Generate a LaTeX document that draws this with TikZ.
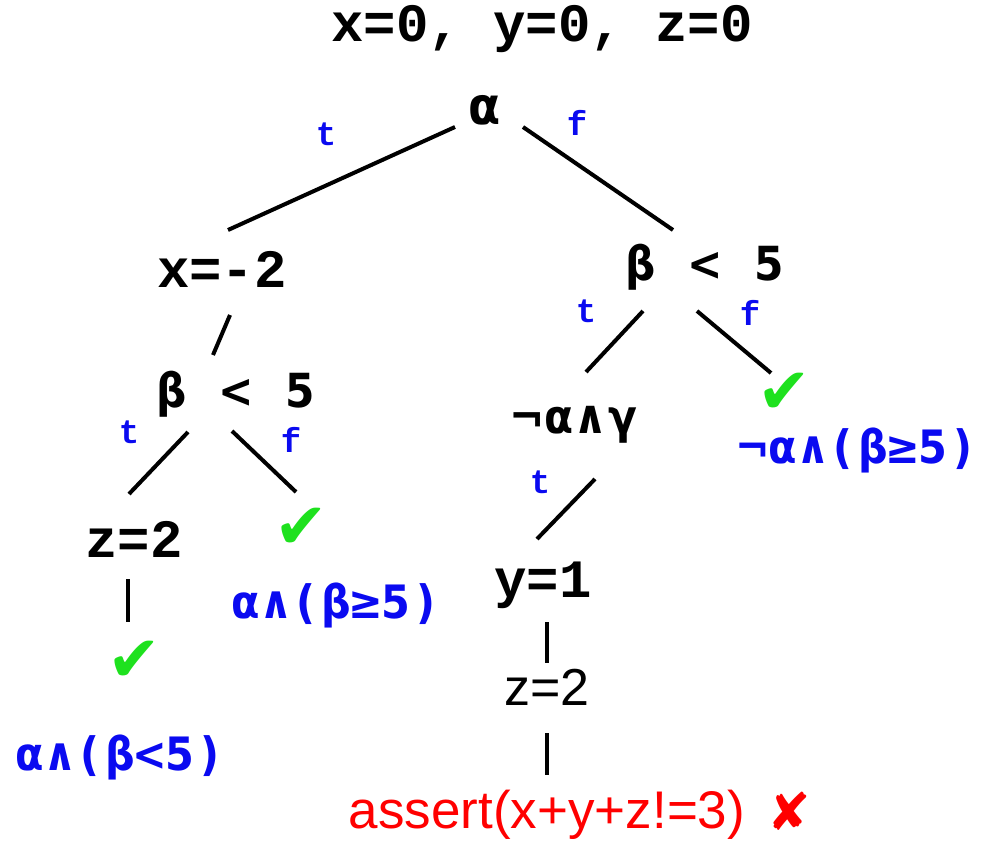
\documentclass[tikz,border=0pt]{standalone}
\usepackage{fontspec}
\setmainfont{DejaVu Sans}
\newfontfamily\cour{Liberation Mono}
\newfontfamily\arial{Liberation Sans}
\newfontfamily\gkb{DejaVu Sans Condensed}
\definecolor{okgreen}{RGB}{30,225,30}
\definecolor{lblue}{RGB}{10,10,240}
\makeatletter
\newcommand\spc[2]{\@tfor\mychr:=#2\do{\makebox[#1][c]{\mychr}}}
\makeatother
\begin{document}
\begin{tikzpicture}[x=1pt,y=-1pt,
  code/.style={font=\cour\bfseries\fontsize{54}{60}\selectfont, inner sep=0pt, anchor=base},
  gk/.style={font=\gkb\bfseries\fontsize{47}{52}\selectfont, inner sep=0pt, anchor=base},
  leaf/.style={font=\gkb\bfseries\fontsize{46}{50}\selectfont, text=lblue, inner sep=0pt, anchor=base},
  lbl/.style={font=\cour\bfseries\fontsize{34}{40}\selectfont, text=lblue, inner sep=0pt, anchor=base},
  ok/.style={font=\fontsize{64}{70}\selectfont, text=okgreen, inner sep=0pt},
  edge/.style={line width=4pt}]
\useasboundingbox (0,0) rectangle (995,841);

% nodes
\node[code] (top) at (542,41) {x=0, y=0, z=0};
\node[gk, font=\gkb\bfseries\fontsize{52}{56}\selectfont] (alpha) at (485,124) {α};
\node[code] (xm2) at (222,287) {x=-2};
\node[gk] (bL) at (236,407) {\spc{32pt}{β~<~5}};
\node[code] (zL) at (134,557) {z=2};
\node[ok] (okL) at (134,661) {✔};
\node[leaf] (leafL) at (120,770) {\spc{30pt}{α∧(β<5)}};
\node[ok] (okM) at (301,528) {✔};
\node[leaf] (leafM) at (336,618) {\spc{30pt}{α∧(β≥5)}};
\node[gk] (bR) at (705,280) {\spc{32pt}{β~<~5}};
\node[ok] (okR) at (784,393) {✔};
\node[leaf] (leafR) at (858,463) {\spc{30pt}{¬α∧(β≥5)}};
\node[gk] (nag) at (575,433) {\spc{32pt}{¬α∧γ}};
\node[code] (y1) at (543,597) {y=1};
\node[font=\arial\fontsize{52}{58}\selectfont, inner sep=0pt, anchor=base] (z2) at (547,705) {z=2};
\node[font=\arial\fontsize{53}{58}\selectfont, text=red, inner sep=0pt, anchor=base] (assert) at (547,828) {assert(x+y+z!=3)};
\node[font=\fontsize{52}{56}\selectfont, text=red, inner sep=0pt] (cross) at (789,811) {✘};

% branch labels
\node[lbl] (t1) at (326,145) {t};
\node[lbl] (f1) at (577,135) {f};
\node[lbl] (t2) at (129,443) {t};
\node[lbl] (f2) at (291,452) {f};
\node[lbl] (t3) at (586,322) {t};
\node[lbl] (f3) at (750,325) {f};
\node[lbl] (t4) at (540,493) {t};

% connectors
\draw[edge] ([shift={(-30,3)}]alpha.base) -- ([shift={(6,-57)}]xm2.base);
\draw[edge] ([shift={(38,3)}]alpha.base) -- ([shift={(-32,-50)}]bR.base);
\draw[edge] ([shift={(8,28)}]xm2.base) -- ([shift={(-23,-52)}]bL.base);
\draw[edge] ([shift={(-48,25)}]bL.base) -- ([shift={(-5,-63)}]zL.base);
\draw[edge] ([shift={(-4,24)}]bL.base) -- ([shift={(-5,-36)}]okM.center);
\draw[edge] ([shift={(-6,22)}]zL.base) -- ([shift={(-6,-39)}]okL.center);
\draw[edge] ([shift={(-62,31)}]bR.base) -- ([shift={(11,-61)}]nag.base);
\draw[edge] ([shift={(-8,31)}]bR.base) -- ([shift={(-13,-20)}]okR.center);
\draw[edge] ([shift={(20,46)}]nag.base) -- ([shift={(-6,-58)}]y1.base);
\draw[edge] ([shift={(4,25)}]y1.base) -- ([shift={(0,-42)}]z2.base);
\draw[edge] ([shift={(0,28)}]z2.base) -- ([shift={(0,-53)}]assert.base);
\end{tikzpicture}
\end{document}
